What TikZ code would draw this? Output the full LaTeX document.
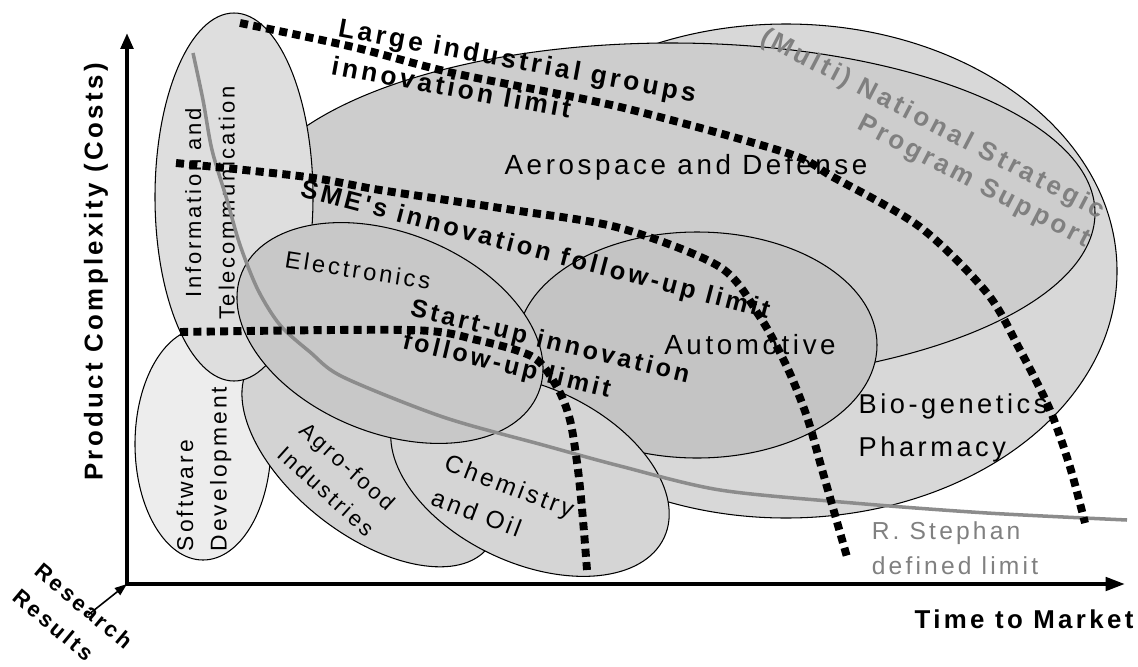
\documentclass[tikz,border=0pt]{standalone}
\usepackage{fontspec}
\newfontfamily\lsf{Liberation Sans}[LetterSpace=13]
\usetikzlibrary{arrows.meta}
\definecolor{cOuter}{RGB}{216,216,216}
\definecolor{cAero}{RGB}{205,205,205}
\definecolor{cAuto}{RGB}{196,196,196}
\definecolor{cElec}{RGB}{200,200,200}
\definecolor{cChem}{RGB}{213,213,213}
\definecolor{cAgro}{RGB}{211,211,211}
\definecolor{cInfo}{RGB}{222,222,222}
\definecolor{cSoft}{RGB}{237,237,237}
\definecolor{cGrayTxt}{RGB}{128,128,128}
\definecolor{cCurve}{RGB}{140,140,140}
\begin{document}
\begin{tikzpicture}[x=0.02cm, y=-0.02cm,
  region/.style={draw=black, line width=0.6pt},
  txt/.style={inner sep=0pt, outer sep=0pt},
  bigtxt/.style={txt, font=\lsf\fontsize{15.8}{24}\selectfont, align=left},
  limtxt/.style={txt, font=\lsf\bfseries\fontsize{14.5}{19}\selectfont, align=left},
  axtxt/.style={txt, font=\lsf\bfseries\fontsize{14.7}{19}\selectfont},
  limitline/.style={line width=4.5pt, dash pattern=on 4.6pt off 3pt},
  stephan/.style={draw=cCurve, line width=2pt},
  axisline/.style={line width=2.3pt, line join=miter},
]
\fill[white] (0,0) rectangle (1138,666);
\useasboundingbox (0,0) rectangle (1138,666);

% ---------------- regions ----------------
\filldraw[region, fill=cOuter] (786,271) ellipse [x radius=331, y radius=247];
\filldraw[region, fill=cAero] (671,213) ellipse [x radius=424, y radius=170];
\filldraw[region, fill=cAuto] (697,345) ellipse [x radius=180, y radius=113];
\filldraw[region, fill=cSoft] (203,444) ellipse [x radius=68, y radius=116];
\begin{scope}[shift={(370,455)}, rotate=-38]
  \filldraw[region, fill=cAgro] (0,0) ellipse [x radius=150, y radius=80];
\end{scope}
\filldraw[region, fill=cInfo] (234,197) ellipse [x radius=79, y radius=184];
\begin{scope}[shift={(530,475)}, rotate=-25]
  \filldraw[region, fill=cChem] (0,0) ellipse [x radius=148, y radius=88];
\end{scope}
\begin{scope}[shift={(390,333)}, rotate=-22]
  \filldraw[region, fill=cElec] (0,0) ellipse [x radius=160, y radius=100];
\end{scope}

% ---------------- region labels ----------------
\node[bigtxt] (aero) at (686,167) {Aerospace and Defense};
\node[bigtxt] (auto) at (750,345) {Automotive};
\node[bigtxt, font=\lsf\fontsize{13.5}{20}\selectfont, rotate=-8.9] (elec) at (358,270) {Electronics};
\node[bigtxt, font=\lsf\fontsize{15.5}{24}\selectfont] (bio) at (953,428) {Bio-genetics\\Pharmacy};
\node[txt, align=left, text=cGrayTxt, font=\lsf\fontsize{14}{20}\selectfont] (steph) at (955,548) {R. Stephan\\defined limit};
\node[txt, align=left, rotate=-21, font=\lsf\fontsize{14}{21}\selectfont] (chem) at (503,503) {Chemistry\\and Oil};
\node[txt, align=left, rotate=-42, font=\lsf\fontsize{12.5}{18.8}\selectfont] (agro) at (337,479) {Agro-food\\Industries};
\node[txt, align=left, rotate=90, font=\lsf\fontsize{13}{19}\selectfont] (soft) at (204,469) {Software\\Development};
\node[txt, align=center, rotate=90, font=\lsf\fontsize{12.5}{19}\selectfont] (info) at (210,203) {Information and\\Telecommunication};
\node[txt, align=right, rotate=-27.5, text=cGrayTxt, font=\lsf\bfseries\fontsize{14.8}{18.2}\selectfont] (multi) at (925,139) {(Multi) National Strategic\\Program Support};

% ---------------- R. Stephan curve ----------------
\draw[stephan] plot[smooth] coordinates {(193,53) (203,100) (212,150) (227,200) (240,245) (258,290) (280,325) (310,352) (343,377) (443,417) (543,445) (620,466) (720,490) (853,503) (987,513) (1127,520)};

% ---------------- limit lines ----------------
\draw[limitline] plot[smooth] coordinates {(240,23) (353,47) (453,73) (620,107) (787,153) (833,177) (920,227) (987,293) (1020,350) (1050,410) (1070,467) (1085,523)};
\draw[limitline] plot[smooth] coordinates {(176,163) (307,177) (380,190) (513,210) (620,228) (720,267) (760,317) (787,367) (807,417) (823,473) (847,557)};
\draw[limitline] plot[smooth] coordinates {(180,332) (410,330) (477,340) (533,357) (557,387) (570,420) (578,470) (583,520) (587,570)};

% ---------------- limit labels ----------------
\node[limtxt, font=\lsf\bfseries\fontsize{15}{22}\selectfont, rotate=-10.5] (large) at (514,79) {Large industrial groups\\innovation limit};
\node[limtxt, rotate=-14.7] (sme) at (535,251) {SME's innovation follow-up limit};
\node[limtxt, font=\lsf\bfseries\fontsize{14.3}{18.8}\selectfont, rotate=-13.5] (start) at (546,359) {Start-up innovation\\follow-up limit};

% ---------------- axes ----------------
\coordinate (O) at (127,584);
\coordinate (Ytip) at (127,33);
\coordinate (Xtip) at (1125,584);
\coordinate (Rtail) at (88,615);
\draw[axisline, {Triangle[length=9pt,width=7pt]}-{Triangle[length=11pt,width=7.5pt]}] (Ytip) -- (O) -- (Xtip);
\draw[line width=0.9pt, -{Triangle[length=7pt,width=5pt]}] (Rtail) -- (O);
\node[axtxt, rotate=90] (ylab) at (96,272) {Product Complexity (Costs)};
\node[axtxt] (xlab) at (1024,619) {Time to Market};
\node[axtxt, align=left, rotate=-40, font=\lsf\bfseries\fontsize{12.5}{19.4}\selectfont] (res) at (73,619) {Research\\Results};
\end{tikzpicture}
\end{document}
